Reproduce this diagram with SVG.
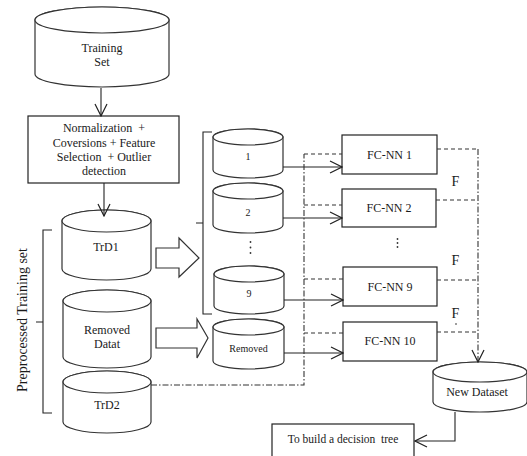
<svg xmlns="http://www.w3.org/2000/svg" width="527" height="456" viewBox="0 0 527 456">
<defs>
<style>
text{font-family:"Liberation Serif","Times New Roman",serif;fill:#1a1a1a;text-anchor:middle}
.t12{font-size:12px}
.t10{font-size:10px}
.cyl{fill:#fff;stroke:#333;stroke-width:1.2}
.box{fill:#fff;stroke:#222;stroke-width:1.2}
.ln{fill:none;stroke:#222;stroke-width:1.1}
.dash{fill:none;stroke:#333;stroke-width:1.1;stroke-dasharray:4 3}
.dd{fill:none;stroke:#333;stroke-width:1.1;stroke-dasharray:6 2 1.5 2}
.blk{fill:#fff;stroke:#333;stroke-width:1.2}
</style>
<marker id="ah" markerUnits="userSpaceOnUse" markerWidth="14" markerHeight="14" viewBox="0 0 14 14" refX="13" refY="7" orient="auto">
<path d="M1,1 L13,7 L1,13" fill="none" stroke="#222" stroke-width="1.2"/>
</marker>
</defs>

<g id="training-set">
<path class="cyl" d="M35,20 A67,13 0 0 1 169,20 V74 A67,13 0 0 1 35,74 Z"/>
<ellipse class="cyl" cx="102" cy="20" rx="67" ry="13"/>
<text class="t12" x="102" y="52">Training</text>
<text class="t12" x="102" y="66">Set</text>
</g>

<g id="preprocess">
<rect class="box" x="28" y="116" width="151" height="67"/>
<text class="t12" x="104" y="132" xml:space="preserve">Normalization  +</text>
<text class="t12" x="104" y="147">Coversions + Feature</text>
<text class="t12" x="104" y="161" xml:space="preserve">Selection  + Outlier</text>
<text class="t12" x="104" y="175">detection</text>
</g>

<g id="trd1">
<path class="cyl" d="M62,221 A44.5,11 0 0 1 151,221 V269 A44.5,11 0 0 1 62,269 Z"/>
<ellipse class="cyl" cx="106.5" cy="221" rx="44.5" ry="11"/>
<text class="t12" x="106" y="251">TrD1</text>
</g>

<g id="removed-datat">
<path class="cyl" d="M63,301 A44,11 0 0 1 151,301 V357 A44,11 0 0 1 63,357 Z"/>
<ellipse class="cyl" cx="107" cy="301" rx="44" ry="11"/>
<text class="t12" x="107" y="334">Removed</text>
<text class="t12" x="107" y="348">Datat</text>
</g>

<g id="trd2">
<path class="cyl" d="M63,382 A44,11 0 0 1 151,382 V422 A44,11 0 0 1 63,422 Z"/>
<ellipse class="cyl" cx="107" cy="382" rx="44" ry="11"/>
<text class="t12" x="107" y="409">TrD2</text>
</g>

<g id="preprocessed-brace">
<path class="ln" d="M52,230 H43 V413 H52 M43,322 H36"/>
<text x="22" y="320" transform="rotate(-90 22 320)" dy="5" style="font-size:14px">Preprocessed Training set</text>
</g>

<g id="block-arrows">
<polygon class="blk" points="156,248 179,248 179,238 199,258 179,277 179,268 156,268"/>
<polygon class="blk" points="156,328 197,328 197,319 208,338 197,358 197,348 156,348"/>
</g>

<g id="subset-brace">
<path class="ln" d="M212,132 H203 V314 H212 M203,223 H196"/>
</g>

<g id="cyl-1">
<path class="cyl" d="M213,137 A35,8 0 0 1 283,137 V170 A35,8 0 0 1 213,170 Z"/>
<ellipse class="cyl" cx="248" cy="137" rx="35" ry="8"/>
<text class="t10" x="248" y="160">1</text>
</g>
<g id="cyl-2">
<path class="cyl" d="M213,191 A35,8 0 0 1 283,191 V225 A35,8 0 0 1 213,225 Z"/>
<ellipse class="cyl" cx="248" cy="191" rx="35" ry="8"/>
<text class="t10" x="248" y="216">2</text>
</g>
<g id="dots-left">
<circle cx="250.5" cy="242" r="0.9" fill="#333"/>
<circle cx="250.5" cy="247.5" r="0.9" fill="#333"/>
<circle cx="250.5" cy="253" r="0.9" fill="#333"/>
</g>
<g id="cyl-9">
<path class="cyl" d="M214,274 A35,8 0 0 1 284,274 V306 A35,8 0 0 1 214,306 Z"/>
<ellipse class="cyl" cx="249" cy="274" rx="35" ry="8"/>
<text class="t10" x="249" y="297">9</text>
</g>
<g id="cyl-removed">
<path class="cyl" d="M213,327 A35.5,8 0 0 1 284,327 V361 A35.5,8 0 0 1 213,361 Z"/>
<ellipse class="cyl" cx="248.5" cy="327" rx="35.5" ry="8"/>
<text class="t10" x="248.5" y="352">Removed</text>
</g>

<g id="fcnn-1">
<rect class="box" x="342" y="135" width="95" height="39"/>
<text class="t12" x="389.5" y="159">FC-NN 1</text>
</g>
<g id="fcnn-2">
<rect class="box" x="342" y="189" width="94" height="38"/>
<text class="t12" x="389" y="212">FC-NN 2</text>
</g>
<g id="dots-right">
<circle cx="397.5" cy="239" r="0.9" fill="#333"/>
<circle cx="397.5" cy="243" r="0.9" fill="#333"/>
<circle cx="397.5" cy="247" r="0.9" fill="#333"/>
</g>
<g id="fcnn-9">
<rect class="box" x="343" y="267" width="94" height="39"/>
<text class="t12" x="390" y="291">FC-NN 9</text>
</g>
<g id="fcnn-10">
<rect class="box" x="343" y="322" width="94" height="39"/>
<text class="t12" x="390" y="345">FC-NN 10</text>
</g>

<g id="f-labels">
<text x="455.5" y="186" style="font-size:14px">F</text>
<text x="455.5" y="265" style="font-size:14px">F</text>
<text x="455.5" y="318" style="font-size:14px">F</text>
<circle cx="456" cy="324" r="0.8" fill="#222"/>
</g>

<g id="new-dataset">
<path class="cyl" d="M433,372 A47,10 0 0 1 527,372 V402 A47,10 0 0 1 433,402 Z"/>
<ellipse class="cyl" cx="480" cy="372" rx="47" ry="10"/>
<text class="t12" x="477" y="396">New Dataset</text>
</g>

<g id="decision-tree">
<rect class="box" x="272" y="424" width="142" height="40"/>
<text x="343" y="443" style="font-size:11.5px" xml:space="preserve">To build a decision  tree</text>
</g>

<g id="connectors">
<line class="ln" x1="101" y1="88" x2="101" y2="116" marker-end="url(#ah)"/>
<line class="ln" x1="104" y1="183" x2="104" y2="216" marker-end="url(#ah)"/>
<line class="ln" x1="283" y1="167" x2="342" y2="167" marker-end="url(#ah)"/>
<line class="ln" x1="283" y1="218" x2="342" y2="218" marker-end="url(#ah)"/>
<line class="ln" x1="284" y1="300" x2="343" y2="300" marker-end="url(#ah)"/>
<line class="ln" x1="284" y1="353" x2="343" y2="353" marker-end="url(#ah)"/>
<path class="dash" d="M304,154 H342 M304,205 H342 M304,279 H343 M304,333 H343"/>
<path class="dd" d="M151,385 H304 V154"/>
<path class="dash" d="M437,149 H478 M436,200 H478 M437,280 H478 M437,332 H478"/>
<line class="dd" x1="478" y1="149" x2="478" y2="362" marker-end="url(#ah)"/>
<path class="ln" d="M455,412 V441 H415" marker-end="url(#ah)"/>
</g>
</svg>
